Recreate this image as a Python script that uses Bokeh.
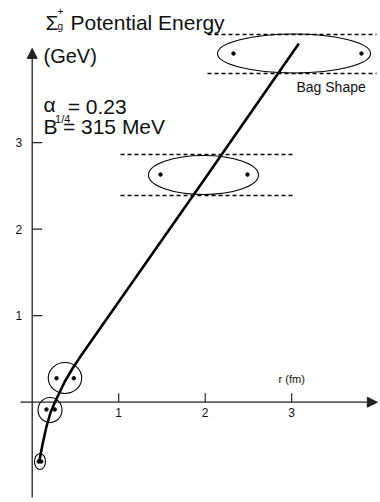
from bokeh.plotting import figure
from bokeh.models import Arrow, NormalHead
from bokeh.core.properties import value
from bokeh.embed import file_html
from bokeh.resources import INLINE

# ---- data ----
r_curve = [0.079, 0.119, 0.165, 0.212, 0.261, 0.305, 0.377, 0.466, 0.558, 0.697, 1.0, 2.0, 3.083]
V_curve = [-0.697, -0.489, -0.281, -0.119, -0.004, 0.089, 0.239, 0.390, 0.528, 0.728, 1.161, 2.590, 4.147]

ell_x = [0.090, 0.206, 0.379, 1.980, 3.027]
ell_y = [-0.686, -0.090, 0.280, 2.627, 4.031]
ell_w = [0.127, 0.277, 0.387, 1.272, 1.769]
ell_h = [0.185, 0.289, 0.358, 0.451, 0.451]

quark_left = [0.076, 0.165, 0.281, 1.483, 2.327]
quark_right = [0.104, 0.261, 0.481, 2.489, 3.807]
quark_y = [-0.686, -0.084, 0.277, 2.632, 4.031]

band_x0 = [1.021, 2.027]
band_x1 = [3.044, 3.980]
band_top = [2.864, 4.251]
band_bottom = [2.390, 3.800]

x_ticks = [1, 2, 3]
x_tick_labels = ["1", "2", "3"]
y_ticks = [1, 2, 3]
y_tick_labels = ["1", "2", "3"]

FONT = value("Liberation Sans")
S = 86.5  # pixels per data unit (both axes)

p = figure(width=380, height=502, x_range=(-0.3665, 4.0266), y_range=(-1.1595, 4.6439),
           x_axis_location=None, y_axis_location=None, min_border=0,
           toolbar_location=None, output_backend="svg")
p.grid.visible = False
p.outline_line_color = None
p.background_fill_color = "white"

# axes (drawn at the origin)
AX = "#222222"
p.add_layout(Arrow(end=NormalHead(size=10, fill_color=AX, line_color=AX, line_width=1),
                   x_start=-0.135, y_start=0, x_end=3.99, y_end=0,
                   line_color=AX, line_width=1.3))
p.add_layout(Arrow(end=NormalHead(size=10, fill_color=AX, line_color=AX, line_width=1),
                   x_start=0, y_start=-1.102, x_end=0, y_end=4.09,
                   line_color=AX, line_width=1.3))

# ticks
p.segment(x0=x_ticks, y0=[0] * 3, x1=x_ticks, y1=[9 / S] * 3, line_color=AX, line_width=1.2)
p.segment(x0=[0] * 3, y0=y_ticks, x1=[10 / S] * 3, y1=y_ticks, line_color=AX, line_width=1.2)
p.text(x=x_ticks, y=[-6 / S] * 3, text=x_tick_labels, text_font=FONT, text_font_size="12px",
       text_align="center", text_baseline="top", text_color="#111111")
p.text(x=[-10 / S] * 3, y=y_ticks, text=y_tick_labels, text_font=FONT, text_font_size="12px",
       text_align="right", text_baseline="middle", text_color="#111111")

# dashed bag bands
p.segment(x0=band_x0, y0=band_top, x1=band_x1, y1=band_top, line_color="black",
          line_width=1.5, line_dash="4 3")
p.segment(x0=band_x0, y0=band_bottom, x1=band_x1, y1=band_bottom, line_color="black",
          line_width=1.5, line_dash="4 3")

# bag shapes
p.ellipse(x=ell_x, y=ell_y, width=ell_w, height=ell_h, fill_color=None,
          line_color="black", line_width=1.1)
p.scatter(x=quark_left + quark_right, y=quark_y + quark_y, size=3.5, color="black")

# potential curve
p.line(r_curve, V_curve, line_color="black", line_width=2.6)

# texts
def T(x, y, s, size, align="left", baseline="alphabetic"):
    p.text(x=[x], y=[y], text=[s], text_font=FONT, text_font_size=size,
           text_align=align, text_baseline=baseline, text_color="#111111")

T(0.154, 4.390, "Σ", "21px")
T(0.292, 4.343, "g", "10px")
T(0.292, 4.517, "+", "10px")
T(0.443, 4.390, "Potential Energy", "21px")
T(0.131, 3.997, "(GeV)", "20px")
T(0.131, 3.441, "α", "21px")
T(0.410, 3.418, "= 0.23", "21px")
T(0.131, 3.187, "B", "21px")
T(0.265, 3.270, "1/4", "11px")
T(0.355, 3.187, "= 315 MeV", "21px")
T(3.0, 0.274, "r (fm)", "11px", align="center")
T(3.055, 3.742, "Bag Shape", "14px", baseline="top")

open("out.html", "w").write(file_html(p, INLINE))
